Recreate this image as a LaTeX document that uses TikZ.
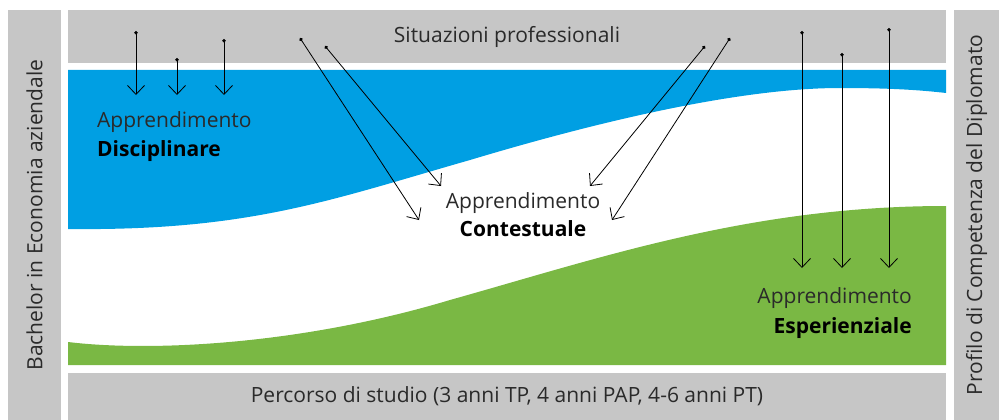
\documentclass[tikz,border=0pt]{standalone}
\usepackage{fontspec}
\setmainfont{Open Sans}
\usetikzlibrary{arrows.meta}
\definecolor{bargray}{HTML}{C6C6C6}
\definecolor{disciplineblue}{HTML}{009FE3}
\definecolor{experiencegreen}{HTML}{7AB844}
\definecolor{textdark}{HTML}{2A2A2A}
\def\textsize{21}
\def\sidebarlength{410}
\def\mainbarwidth{878}
\tikzset{
	% texts
	area_text/.style={
		font=\fontsize{\textsize}{25}\selectfont,
		text=textdark,
		inner sep=0,
	},
	area_name/.style={
		area_text,
		font=\fontsize{\textsize}{25}\selectfont\bfseries,
		text=black,
	},
	% grey bars
	bar/.style={
		fill=bargray,
		shape=rectangle,
		font=\fontsize{\textsize}{25}\selectfont,
		text=textdark,
		inner sep=0,
		outer sep=0,
	},
	side_bar/.style={
		bar,
		rotate=90,
		minimum width=\sidebarlength,
	},
	% learning areas
	discipline_area/.style={
		fill=disciplineblue,
	},
	experience_area/.style={
		fill=experiencegreen,
	},
	% influences
	influence/.style={
		line width=0.8pt,
		{Circle[length=3.5pt]}-{Straight Barb[length=9pt, width=17pt, line width=0.8pt]},
	},
}
\begin{document}
\begin{tikzpicture}[x=1pt, y=-1pt]
		\useasboundingbox (0,0) rectangle (999,420);

		% Bars
		\node[
			side_bar,
			minimum height=53,
		] (bachelor) at (34.5,215) {Bachelor in Economia aziendale};
		\node[
			side_bar,
			minimum height=45,
		] (profile) at (976.5,215) {Profilo di Competenza del Diplomato};
		\node[
			bar,
			minimum width=\mainbarwidth,
			minimum height=53,
		] (situations) at (507,36.5) {Situazioni professionali};
		\node[
			bar,
			minimum width=\mainbarwidth,
			minimum height=47,
		] (course) at (507,396.5) {Percorso di studio (3 anni TP, 4 anni PAP, 4-6 anni PT)};

		% Learning areas
		\fill[discipline_area] (68,70) -- (946,70) -- (946,93)
			.. controls (920,90) and (890,88) .. (840,88)
			.. controls (750,88) and (620,115) .. (470,160)
			.. controls (330,200) and (250,231) .. (68,229) -- cycle;
		\fill[experience_area] (68,365) -- (68,342)
			.. controls (150,352) and (300,345) .. (450,300)
			.. controls (600,258) and (750,206) .. (946,206)
			-- (946,365) -- cycle;

		%% Labels
		\node[area_text, anchor=base west] (discipline_title) at (97,127) {Apprendimento};
		\node[area_name, anchor=base west] (discipline_name) at (97,156) {Disciplinare};
		\node[area_text, anchor=base] (context_title) at (523,208) {Apprendimento};
		\node[area_name, anchor=base] (context_name) at (523,236) {Contestuale};
		\node[area_text, anchor=base east] (experience_title) at (912,303) {Apprendimento};
		\node[area_name, anchor=base east] (experience_name) at (912,333) {Esperienziale};

		% Influences
		\foreach \name/\sx/\sy/\ex/\ey in {
				discipline1/136/31/136/95,
				discipline2/177/58/177/95,
				discipline3/224/39/224/95,
				context1/300/38/419/220,
				context2/325/46/441/186,
				context3/705/46/590/186,
				context4/730/38/612/220,
				experience1/802/31/802/268,
				experience2/842/53/842/268,
				experience3/889/28/889/268} {
			\coordinate (\name_from) at (\sx,\sy);
			\coordinate (\name_to) at (\ex,\ey);
			\draw[influence] (\name_from) -- (\name_to);
		}
	\end{tikzpicture}
\end{document}
